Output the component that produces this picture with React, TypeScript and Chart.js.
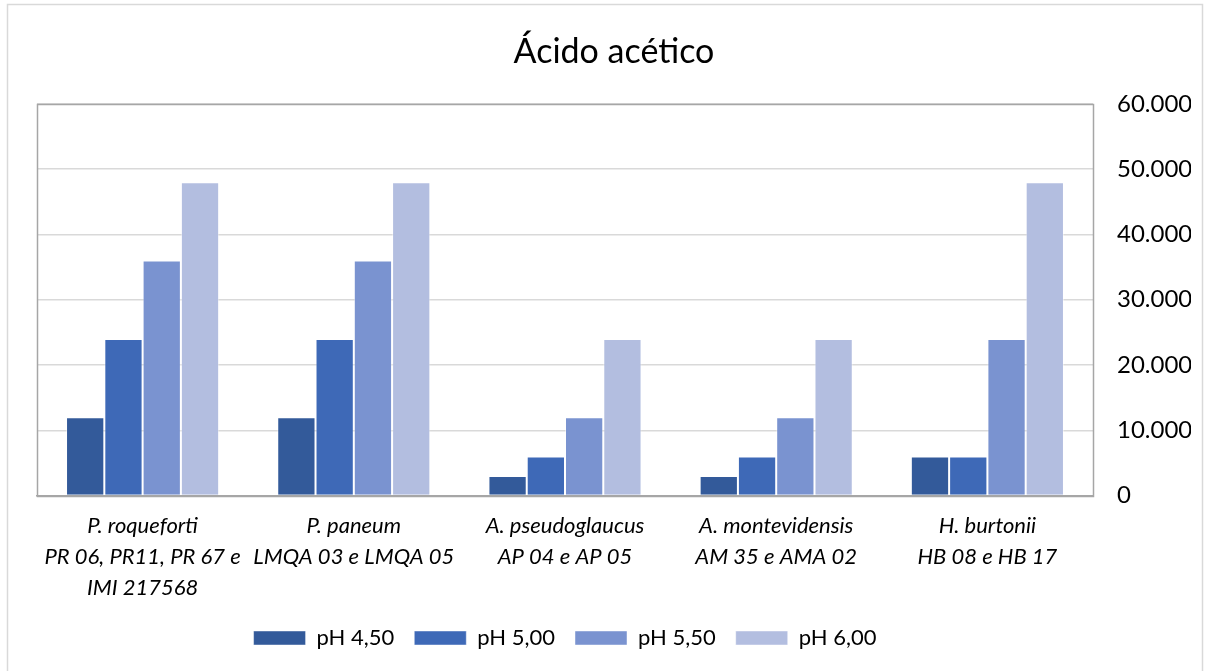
import React, { useEffect, useRef } from "react";
import { Chart, registerables } from "chart.js";

Chart.register(...registerables);

const categories: string[][] = [
  ["P. roqueforti", "PR 06, PR11, PR 67 e", "IMI 217568"],
  ["P. paneum", "LMQA 03 e LMQA 05"],
  ["A. pseudoglaucus", "AP 04 e AP 05"],
  ["A. montevidensis", "AM 35 e AMA 02"],
  ["H. burtonii", "HB 08 e HB 17"],
];
const seriesNames = ["pH 4,50", "pH 5,00", "pH 5,50", "pH 6,00"];
const ph450 = [12000, 12000, 3000, 3000, 6000];
const ph500 = [24000, 24000, 6000, 6000, 6000];
const ph550 = [36000, 36000, 12000, 12000, 24000];
const ph600 = [48000, 48000, 24000, 24000, 48000];
const yTicks = [0, 10000, 20000, 30000, 40000, 50000, 60000];
const yTickLabels = ["0", "10.000", "20.000", "30.000", "40.000", "50.000", "60.000"];
const colors = ["#335a9a", "#3e69b7", "#7a93d0", "#b3bee0"];

const FONT = "Lato, 'Open Sans', sans-serif";

const framePlugin = {
  id: "frame",
  afterDatasetsDraw(chart: any) {
    const { ctx, chartArea } = chart;
    ctx.save();
    ctx.strokeStyle = "#a6a6a6";
    ctx.lineWidth = 1.5;
    ctx.strokeRect(
      Math.round(chartArea.left) + 0.5,
      Math.round(chartArea.top) + 0.5,
      Math.round(chartArea.right - chartArea.left),
      Math.round(chartArea.bottom - chartArea.top)
    );
    ctx.restore();
  },
  beforeDraw(chart: any) {
    const { ctx } = chart;
    ctx.save();
    ctx.fillStyle = "#ffffff";
    ctx.fillRect(0, 0, chart.width, chart.height);
    ctx.strokeStyle = "#d9d9d9";
    ctx.lineWidth = 1.5;
    ctx.strokeRect(7.5, 4.5, 1195, 700);
    ctx.restore();
  },
};

export default function App() {
  const ref = useRef<HTMLCanvasElement | null>(null);
  useEffect(() => {
    if (!ref.current) return;
    const data = [ph450, ph500, ph550, ph600];
    const chart = new Chart(ref.current, {
      type: "bar",
      data: {
        labels: categories,
        datasets: seriesNames.map((name, i) => ({
          label: name,
          data: data[i],
          backgroundColor: colors[i],
          borderColor: "rgba(255,255,255,0.45)",
          borderWidth: 1,
          categoryPercentage: 0.725,
          barPercentage: 1,
        })),
      },
      options: {
        animation: false,
        responsive: false,
        maintainAspectRatio: false,
        layout: { padding: { left: 37, right: 16, top: 32, bottom: 12 } },
        plugins: {
          title: {
            display: true,
            text: "Ácido acético",
            color: "#000000",
            font: { family: FONT, size: 34, weight: "normal" },
            padding: { top: 0, bottom: 31 },
          },
          legend: {
            position: "bottom",
            fullSize: false,
            labels: {
              color: "#000000",
              font: { family: FONT, size: 22 },
              boxWidth: 52,
              boxHeight: 14,
              padding: 20,
            },
          },
          tooltip: { enabled: false },
        },
        scales: {
          x: {
            grid: { display: false, drawTicks: false },
            border: { display: true, color: "#a6a6a6", width: 1.5 },
            ticks: {
              color: "#000000",
              font: { family: FONT, size: 22, style: "italic", lineHeight: 1.4 },
              padding: 15,
              maxRotation: 0,
              autoSkip: false,
            },
            afterFit: (scale: any) => {
              scale.height = scale.height - 11;
            },
          },
          y: {
            position: "right",
            min: 0,
            max: 60000,
            afterBuildTicks: (axis: any) => {
              axis.ticks = yTicks.map((v) => ({ value: v }));
            },
            afterFit: (scale: any) => {
              scale.width = 98;
            },
            grid: { color: "#d9d9d9", lineWidth: 1.5, drawTicks: false },
            border: { display: false },
            ticks: {
              color: "#000000",
              font: { family: FONT, size: 24 },
              padding: 24,
              callback: (_v: any, i: number) => yTickLabels[i],
            },
          },
        },
      },
      plugins: [framePlugin],
    } as any);
    return () => chart.destroy();
  }, []);
  return (
    <div style={{ position: "fixed", left: 0, top: 0, width: 1207, height: 671, background: "#fff" }}>
      <canvas ref={ref} width={1207} height={671} style={{ width: 1207, height: 671 }} />
    </div>
  );
}
